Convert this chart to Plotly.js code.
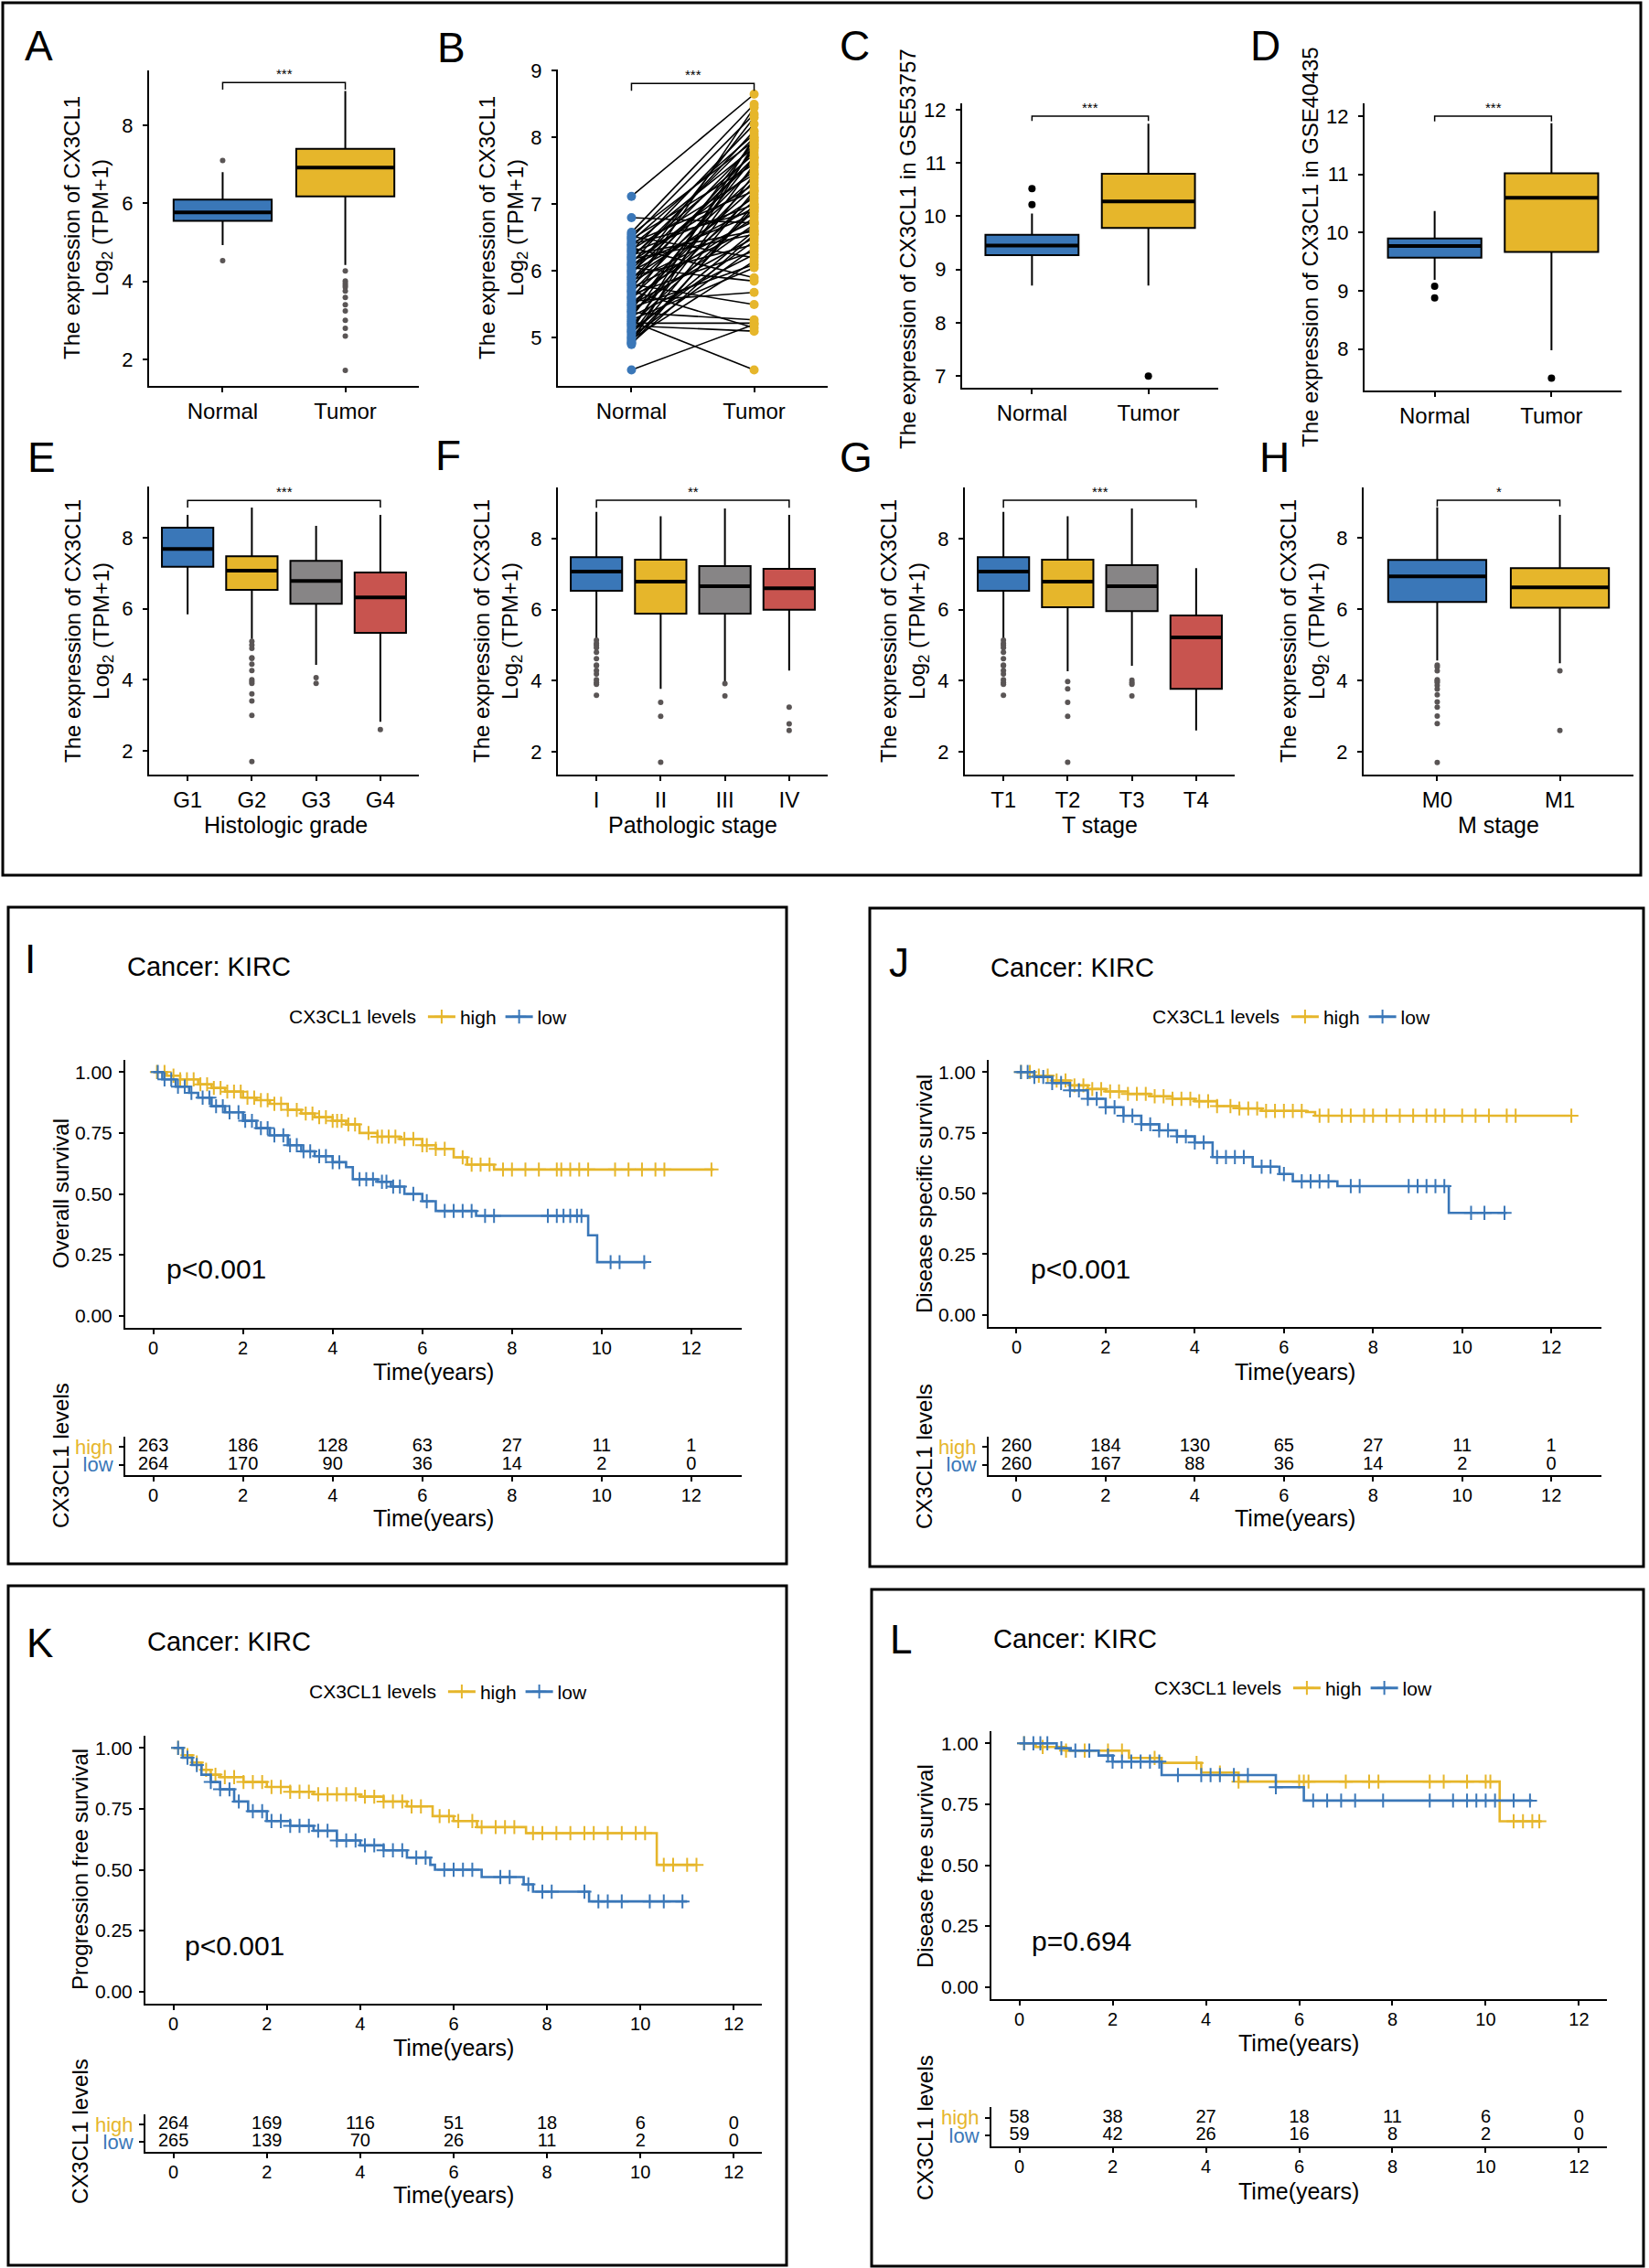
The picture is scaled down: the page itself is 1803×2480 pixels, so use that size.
<!DOCTYPE html>
<html><head><meta charset="utf-8">
<script src="https://cdn.plot.ly/plotly-3.0.1.min.js"></script>
<style>html,body{margin:0;padding:0;background:#fff}#chart{width:1803px;height:2480px}</style>
</head><body><div id="chart"></div>
<script>
const W=1803,H=2480;
const FONT='Arial, "Liberation Sans", sans-serif';
const BLUE='#3A77B8', YEL='#E6B62B', GRAY='#878586', RED='#C8544F';

// ================= DATA =================
// A: TCGA normal vs tumor
const A_groups=['Normal','Tumor'];
const A_q1=[5.55,6.18], A_med=[5.77,6.92], A_q3=[6.10,7.40], A_lo=[4.93,4.42], A_hi=[6.80,8.88];
const A_out=[[7.10,4.53],[4.27,4.01,3.95,3.90,3.85,3.75,3.59,3.40,3.24,3.00,2.80,2.60,1.72]];

// B: paired samples
const B_groups=['Normal','Tumor'];
const B_normal=[7.12,6.80,6.58,6.55,6.52,6.50,6.48,6.45,6.42,6.40,6.38,6.35,6.32,6.30,6.28,6.25,6.22,6.20,6.18,6.15,6.12,6.10,6.08,6.05,6.02,6.00,5.98,5.95,5.92,5.90,5.88,5.85,5.82,5.80,5.78,5.75,5.72,5.70,5.68,5.65,5.62,5.60,5.58,5.55,5.52,5.50,5.48,5.45,5.42,5.40,5.38,5.35,5.32,5.30,5.27,5.25,5.22,5.20,5.18,5.15,5.12,5.10,5.08,5.05,5.02,5.00,4.98,4.95,4.93,4.92,4.90,4.52];
const B_tumor=[8.65,6.72,8.50,7.95,6.20,8.35,7.60,8.05,7.20,6.90,7.85,5.90,7.45,8.20,7.00,6.60,7.75,8.00,6.55,7.30,8.10,6.85,7.50,5.85,7.90,6.95,7.65,8.30,6.40,7.10,7.70,6.75,7.80,5.50,7.40,6.65,8.45,5.15,7.55,6.30,7.25,6.80,7.95,5.68,7.05,6.50,7.35,6.10,7.70,6.70,5.27,7.15,6.25,7.85,6.05,4.52,5.22,6.90,5.10,7.60,6.45,8.00,6.60,7.45,6.35,7.20,6.15,6.95,7.90,6.55,7.00,5.20];

// C: GSE53757
const C_groups=['Normal','Tumor'];
const C_q1=[9.27,9.78], C_med=[9.45,10.28], C_q3=[9.65,10.80], C_lo=[8.70,8.70], C_hi=[10.05,11.74];
const C_out=[[10.22,10.52],[7.00]];

// D: GSE40435
const D_groups=['Normal','Tumor'];
const D_q1=[9.57,9.67], D_med=[9.77,10.60], D_q3=[9.90,11.02], D_lo=[9.19,7.98], D_hi=[10.37,11.88];
const D_out=[[9.08,8.88],[7.50]];

// E: Histologic grade
const E_groups=['G1','G2','G3','G4'];
const E_q1=[7.18,6.53,6.14,5.32], E_med=[7.68,7.07,6.78,6.32], E_q3=[8.28,7.48,7.35,7.02], E_lo=[5.84,5.15,4.42,2.82], E_hi=[8.64,8.85,8.33,8.64];
const E_out=[[],[5.08,4.98,4.88,4.62,4.60,4.44,4.26,4.00,3.95,3.90,3.60,3.40,3.00,1.70],[4.06,3.90],[2.60]];

// F: Pathologic stage
const F_groups=['I','II','III','IV'];
const F_q1=[6.53,5.89,5.89,6.00], F_med=[7.07,6.79,6.66,6.60], F_q3=[7.48,7.41,7.23,7.15], F_lo=[5.19,3.77,3.97,4.29], F_hi=[8.75,8.63,8.85,8.67];
const F_out=[[5.14,5.05,5.00,4.93,4.80,4.62,4.44,4.42,4.29,4.19,4.03,3.95,3.90,3.59],[3.39,3.00,1.71],[3.92,3.57],[3.26,2.79,2.60]];

// G: T stage
const G_groups=['T1','T2','T3','T4'];
const G_q1=[6.53,6.07,5.96,3.77], G_med=[7.07,6.79,6.66,5.22], G_q3=[7.48,7.41,7.25,5.84], G_lo=[5.19,4.27,4.42,2.60], G_hi=[8.75,8.63,8.85,7.17];
const G_out=[[5.14,5.05,5.00,4.93,4.80,4.62,4.44,4.42,4.29,4.19,4.03,3.95,3.90,3.59],[3.98,3.77,3.39,3.00,1.71],[4.02,3.95,3.90,3.57],[]];

// H: M stage
const H_groups=['M0','M1'];
const H_q1=[6.20,6.04], H_med=[6.92,6.61], H_q3=[7.38,7.15], H_lo=[4.56,4.48], H_hi=[8.85,8.64];
const H_out=[[4.43,4.38,4.27,4.02,3.98,3.94,3.86,3.76,3.60,3.40,3.25,3.00,2.79,1.70],[4.27,2.60]];

// significance brackets: [bar level, left tick end, right tick end], label
const SIG_A=[9.10,8.92,8.92,'***'], SIG_B=[8.81,8.70,8.70,'***'], SIG_C=[11.88,11.79,11.79,'***'], SIG_D=[12.00,11.91,11.91,'***'];
const SIG_E=[9.05,8.85,8.85,'***'], SIG_F=[9.08,8.87,8.87,'**'], SIG_G=[9.08,8.87,8.87,'***'], SIG_H=[9.05,8.88,8.88,'*'];

// KM curves (time in years, survival)
const I_high_t=[0,0.3,0.6,1.0,1.3,1.6,2.0,2.3,2.6,3.0,3.3,3.6,4.0,4.3,4.6,5.0,5.5,6.0,6.3,6.7,7.0,7.6,12.5];
const I_high_s=[1,0.985,0.97,0.95,0.935,0.92,0.895,0.885,0.87,0.845,0.83,0.815,0.80,0.785,0.75,0.735,0.725,0.70,0.685,0.65,0.62,0.60,0.60];
const I_low_t=[0,0.2,0.5,0.8,1.0,1.3,1.6,2.0,2.3,2.6,3.0,3.3,3.6,4.0,4.3,4.45,5.0,5.3,5.6,6.0,6.3,7.2,9.7,9.9,11.0];
const I_low_s=[1,0.97,0.94,0.915,0.895,0.86,0.835,0.80,0.77,0.74,0.70,0.675,0.655,0.63,0.61,0.56,0.55,0.53,0.50,0.47,0.43,0.41,0.33,0.22,0.22];
const I_high_c=[0.08,0.25,0.45,0.6,0.75,0.9,1.05,1.2,1.35,1.5,1.65,1.8,1.95,2.1,2.25,2.4,2.55,2.7,2.85,3.0,3.2,3.4,3.55,3.7,3.85,4.0,4.1,4.2,4.35,4.5,4.8,5.0,5.1,5.25,5.4,5.6,5.8,6.0,6.1,6.3,6.5,6.9,7.1,7.3,7.5,7.8,8.0,8.3,8.6,9.0,9.1,9.3,9.5,9.7,10.3,10.6,10.9,11.2,11.4,12.45];
const I_low_c=[0.1,0.25,0.4,0.55,0.7,0.85,1.1,1.25,1.4,1.55,1.7,1.9,2.05,2.2,2.4,2.55,2.7,2.9,3.05,3.2,3.35,3.5,3.7,3.85,4.0,4.15,4.6,4.75,4.9,5.1,5.2,5.35,5.5,5.8,6.1,6.5,6.7,6.9,7.1,7.4,7.6,8.8,9.0,9.15,9.3,9.45,9.55,10.2,10.4,10.95];

const J_high_t=[0,0.4,0.8,1.2,1.6,2.0,2.5,3.0,3.5,4.0,4.5,5.0,5.5,6.5,6.7,12.45];
const J_high_s=[1,0.985,0.965,0.945,0.93,0.92,0.91,0.90,0.89,0.88,0.86,0.85,0.84,0.835,0.82,0.82];
const J_low_t=[0,0.4,0.8,1.2,1.6,2.0,2.4,2.8,3.2,3.6,4.0,4.4,5.3,5.9,6.2,7.2,9.7,11.0];
const J_low_s=[1,0.98,0.955,0.925,0.89,0.855,0.82,0.785,0.76,0.735,0.71,0.65,0.61,0.58,0.55,0.53,0.42,0.42];
const J_high_c=[0.1,0.3,0.5,0.7,0.9,1.1,1.3,1.5,1.7,1.9,2.1,2.3,2.5,2.7,2.9,3.1,3.3,3.5,3.7,3.9,4.1,4.3,4.5,4.8,5.0,5.2,5.4,5.6,5.8,6.0,6.2,6.4,6.8,7.0,7.3,7.5,7.8,8.0,8.3,8.6,8.9,9.2,9.4,9.6,10.0,10.3,10.6,11.0,11.2,12.45];
const J_low_c=[0.1,0.25,0.4,0.6,0.8,1.0,1.2,1.4,1.6,1.8,2.0,2.2,2.4,2.6,2.8,3.0,3.2,3.4,3.6,3.8,4.0,4.2,4.5,4.7,4.9,5.1,5.5,5.7,6.0,6.4,6.6,6.8,7.0,7.5,7.7,8.8,9.0,9.2,9.4,9.6,10.2,10.5,10.95];

const K_high_t=[0,0.2,0.4,0.6,0.8,1.0,1.5,2.0,2.5,3.0,4.0,4.5,5.0,5.55,6.0,6.5,7.55,10.35,11.2];
const K_high_s=[1,0.97,0.94,0.91,0.89,0.88,0.86,0.84,0.82,0.81,0.80,0.78,0.76,0.72,0.70,0.675,0.65,0.52,0.52];
const K_low_t=[0,0.2,0.4,0.6,0.8,1.0,1.3,1.6,2.0,2.5,3.0,3.5,4.0,4.5,5.0,5.5,5.6,6.6,7.5,7.7,8.9,11.0];
const K_low_s=[1,0.96,0.93,0.89,0.86,0.83,0.78,0.74,0.70,0.68,0.66,0.62,0.60,0.58,0.55,0.52,0.50,0.47,0.44,0.41,0.37,0.37];
const K_high_c=[0.1,0.3,0.5,0.7,0.9,1.1,1.3,1.5,1.7,1.9,2.1,2.3,2.5,2.7,2.9,3.1,3.3,3.5,3.7,3.9,4.1,4.3,4.5,4.7,4.9,5.1,5.3,5.7,5.9,6.1,6.4,6.6,6.9,7.1,7.3,7.7,7.9,8.2,8.5,8.8,9.0,9.3,9.6,9.9,10.1,10.5,10.7,11.0,11.2];
const K_low_c=[0.1,0.3,0.5,0.8,1.0,1.2,1.4,1.7,1.9,2.1,2.3,2.5,2.7,2.9,3.1,3.3,3.5,3.7,3.9,4.1,4.3,4.5,4.7,4.9,5.2,5.4,5.8,6.0,6.2,6.4,7.0,7.2,7.6,7.9,8.1,8.8,9.1,9.3,9.6,10.2,10.5,10.9];

const L_high_t=[0,0.35,1.0,2.35,3.05,3.9,4.7,10.3,11.2];
const L_high_s=[1,0.985,0.97,0.94,0.92,0.88,0.843,0.68,0.68];
const L_low_t=[0,0.8,1.1,1.7,2.0,3.05,5.5,6.1,11.0];
const L_low_s=[1,0.98,0.97,0.95,0.925,0.87,0.82,0.765,0.765];
const L_high_c=[0.1,0.5,1.0,1.4,1.9,2.2,2.9,3.8,4.3,4.7,6.0,6.1,6.2,7.0,7.5,7.7,8.8,9.1,9.6,10.0,10.1,10.6,10.8,11.0,11.15];
const L_low_c=[0.1,0.3,0.45,0.6,0.9,1.2,1.5,1.9,2.0,2.2,2.4,2.6,2.8,3.0,3.4,3.9,4.1,4.3,4.6,4.9,5.5,6.3,6.6,6.9,7.2,7.8,8.8,9.3,9.6,9.8,10.0,10.2,10.6,10.95];

// risk tables
const RISK_TIMES=[0,2,4,6,8,10,12];
const I_risk_high=[263,186,128,63,27,11,1], I_risk_low=[264,170,90,36,14,2,0];
const J_risk_high=[260,184,130,65,27,11,1], J_risk_low=[260,167,88,36,14,2,0];
const K_risk_high=[264,169,116,51,18,6,0], K_risk_low=[265,139,70,26,11,2,0];
const L_risk_high=[58,38,27,18,11,6,0], L_risk_low=[59,42,26,16,8,2,0];

const KM_YLABELS={I:'Overall survival',J:'Disease specific survival',K:'Progression free survival',L:'Disease free survival'};
const KM_P={I:'p&lt;0.001',J:'p&lt;0.001',K:'p&lt;0.001',L:'p=0.694'};

// ================= GEOMETRY (pixels) =================
const GEOM={
 A:{x:[163,458],y:[77,422],yr:[1.32,9.41],dtick:2,label:[42,50],ytitle:[96,249]},
 B:{x:[610,905],y:[76,422],yr:[4.28,9.02],dtick:1,label:[494,52],ytitle:[550,249]},
 C:{x:[1052,1332],y:[113,424],yr:[6.78,12.12],dtick:1,label:[934,50],ytitle:[993,272]},
 D:{x:[1492,1773],y:[113,427],yr:[7.29,12.22],dtick:1,label:[1383,50],ytitle:[1432,270]},
 E:{x:[163,458],y:[532,847],yr:[1.33,9.44],dtick:2,label:[45,500],ytitle:[97,690],xtitle:[312,902]},
 F:{x:[610,905],y:[533,847],yr:[1.36,9.44],dtick:2,label:[490,498],ytitle:[544,690],xtitle:[757,902]},
 G:{x:[1055,1350],y:[533,847],yr:[1.36,9.44],dtick:2,label:[936,500],ytitle:[989,690],xtitle:[1202,902]},
 H:{x:[1491,1786],y:[533,847],yr:[1.36,9.41],dtick:2,label:[1393,500],ytitle:[1426,690],xtitle:[1638,902]}
};
const KGEOM={
 I:{box:[9,992,860,1710],px:[137,811],py:[1159,1452],ry:[1571,1613],xr:[-0.625,13.125],label:[33,1048],cancer:[137,1057],p:[180,1387],legend:[314,1112],ytitle:[66,1305],xtitle:[474,1500],rtitle:[66,1592],rxtitle:[474,1660]},
 J:{box:[951,993,1797,1713],px:[1081,1751],py:[1159,1451],ry:[1571,1613],xr:[-0.625,13.125],label:[983,1052],cancer:[1081,1058],p:[1125,1387],legend:[1258,1112],ytitle:[1010,1305],xtitle:[1416,1500],rtitle:[1010,1592],rxtitle:[1416,1660]},
 K:{box:[9,1734,860,2477],px:[159,833],py:[1898,2191],ry:[2312,2353],xr:[-0.6,12.6],label:[43,1796],cancer:[159,1795],p:[200,2127],legend:[336,1850],ytitle:[87,2044],xtitle:[496,2239],rtitle:[87,2331],rxtitle:[496,2400]},
 L:{box:[953,1738,1797,2478],px:[1084,1757],py:[1893,2186],ry:[2304,2347],xr:[-0.6,12.6],label:[985,1792],cancer:[1084,1792],p:[1126,2122],legend:[1260,1846],ytitle:[1011,2040],xtitle:[1420,2234],rtitle:[1011,2326],rxtitle:[1420,2396]}
};

// ================= BUILD =================
const dx=(a,b)=>[a/W,b/W];
const dy=(top,bot)=>[1-bot/H,1-top/H];
const layout={width:W,height:H,margin:{l:0,r:0,t:0,b:0},paper_bgcolor:'#fff',plot_bgcolor:'rgba(0,0,0,0)',
  hovermode:false,showlegend:true,font:{family:FONT,color:'#000'},annotations:[],shapes:[]};
const data=[];
function keys(i){return {xk:i===1?'xaxis':'xaxis'+i,yk:i===1?'yaxis':'yaxis'+i,xa:i===1?'x':'x'+i,ya:i===1?'y':'y'+i};}
function axisBase(extra){return Object.assign({showgrid:false,zeroline:false,showline:true,linecolor:'#000',linewidth:2,
  ticks:'outside',ticklen:5,tickwidth:2,tickcolor:'#000',fixedrange:true,tickfont:{family:FONT,size:22,color:'#000'}},extra);}
function ann(text,x,y,size,opt){layout.annotations.push(Object.assign({text:text,xref:'paper',yref:'paper',x:x/W,y:1-y/H,
  showarrow:false,xanchor:'center',yanchor:'middle',font:{family:FONT,size:size,color:'#000'}},opt||{}));}

function sigBracket(xa,ya,n,sig){
  data.push({type:'scatter',mode:'lines',xaxis:xa,yaxis:ya,x:[1,1,n,n],y:[sig[1],sig[0],sig[0],sig[2]],
    line:{color:'#000',width:1.5},showlegend:false,hoverinfo:'skip'});
  layout.annotations.push({text:sig[3],xref:xa,yref:ya,x:(1+n)/2,y:sig[0],yanchor:'bottom',xanchor:'center',showarrow:false,
    font:{family:FONT,size:15,color:'#000'},yshift:-1});
}

function boxPanel(i,key,groups,colors,q1,med,q3,lo,hi,out,sig,outColor,outSize,ytitleText,xtitleText){
  const g=GEOM[key],k=keys(i),n=groups.length;
  layout[k.xk]=axisBase({domain:dx(g.x[0],g.x[1]),anchor:k.ya,range:[0.4,n+0.6],tickvals:groups.map((_,j)=>j+1),ticktext:groups,
    tickfont:{family:FONT,size:24,color:'#000'},ticklabelstandoff:0});
  layout[k.yk]=axisBase({domain:dy(g.y[0],g.y[1]),anchor:k.xa,range:g.yr,dtick:g.dtick,tick0:0,ticklabelstandoff:6});
  groups.forEach((gr,j)=>{
    const pos=j+1;
    data.push({type:'box',orientation:'v',xaxis:k.xa,yaxis:k.ya,x:[pos],q1:[q1[j]],median:[med[j]],q3:[q3[j]],
      lowerfence:[lo[j]],upperfence:[hi[j]],width:0.8,fillcolor:colors[j],line:{color:'#000',width:2},whiskerwidth:0,
      boxpoints:false,showlegend:false,hoverinfo:'skip'});
    data.push({type:'scatter',mode:'lines',xaxis:k.xa,yaxis:k.ya,x:[pos-0.4,pos+0.4],y:[med[j],med[j]],
      line:{color:'#000',width:4},showlegend:false,hoverinfo:'skip'});
    if(out[j].length) data.push({type:'scatter',mode:'markers',xaxis:k.xa,yaxis:k.ya,x:out[j].map(()=>pos),y:out[j],
      marker:{color:outColor,size:outSize},showlegend:false,hoverinfo:'skip'});
  });
  sigBracket(k.xa,k.ya,n,sig);
  ann(key,g.label[0],g.label[1],46);
  ann(ytitleText,g.ytitle[0],g.ytitle[1],24,{textangle:-90});
  if(xtitleText) ann(xtitleText,g.xtitle[0],g.xtitle[1],25);
}

const TPM='The expression of CX3CL1<br>Log<sub>2</sub> (TPM+1)';
const DOTG='#5a5555';
boxPanel(1,'A',A_groups,[BLUE,YEL],A_q1,A_med,A_q3,A_lo,A_hi,A_out,SIG_A,DOTG,6,TPM);
// B paired
(function(){
  const g=GEOM.B,k=keys(2);
  layout[k.xk]=axisBase({domain:dx(g.x[0],g.x[1]),anchor:k.ya,range:[0.4,2.6],tickvals:[1,2],ticktext:B_groups,
    tickfont:{family:FONT,size:24,color:'#000'},ticklabelstandoff:0});
  layout[k.yk]=axisBase({domain:dy(g.y[0],g.y[1]),anchor:k.xa,range:g.yr,dtick:1,tick0:0,ticklabelstandoff:6});
  const lx=[],ly=[];
  B_normal.forEach((v,j)=>{lx.push(1,2,null);ly.push(v,B_tumor[j],null);});
  data.push({type:'scatter',mode:'lines',xaxis:k.xa,yaxis:k.ya,x:lx,y:ly,line:{color:'#000',width:1.6},showlegend:false,hoverinfo:'skip'});
  data.push({type:'scatter',mode:'markers',xaxis:k.xa,yaxis:k.ya,x:B_normal.map(()=>1),y:B_normal,marker:{color:BLUE,size:10},showlegend:false,hoverinfo:'skip'});
  data.push({type:'scatter',mode:'markers',xaxis:k.xa,yaxis:k.ya,x:B_tumor.map(()=>2),y:B_tumor,marker:{color:YEL,size:10},showlegend:false,hoverinfo:'skip'});
  sigBracket(k.xa,k.ya,2,SIG_B);
  ann('B',g.label[0],g.label[1],46);
  ann(TPM,g.ytitle[0],g.ytitle[1],24,{textangle:-90});
})();
boxPanel(3,'C',C_groups,[BLUE,YEL],C_q1,C_med,C_q3,C_lo,C_hi,C_out,SIG_C,'#000',8,'The expression of CX3CL1 in GSE53757');
boxPanel(4,'D',D_groups,[BLUE,YEL],D_q1,D_med,D_q3,D_lo,D_hi,D_out,SIG_D,'#000',8,'The expression of CX3CL1 in GSE40435');
const C4=[BLUE,YEL,GRAY,RED];
boxPanel(5,'E',E_groups,C4,E_q1,E_med,E_q3,E_lo,E_hi,E_out,SIG_E,DOTG,6,TPM,'Histologic grade');
boxPanel(6,'F',F_groups,C4,F_q1,F_med,F_q3,F_lo,F_hi,F_out,SIG_F,DOTG,6,TPM,'Pathologic stage');
boxPanel(7,'G',G_groups,C4,G_q1,G_med,G_q3,G_lo,G_hi,G_out,SIG_G,DOTG,6,TPM,'T stage');
boxPanel(8,'H',H_groups,[BLUE,YEL],H_q1,H_med,H_q3,H_lo,H_hi,H_out,SIG_H,DOTG,6,TPM,'M stage');

// frame around A-H
layout.shapes.push({type:'rect',xref:'paper',yref:'paper',x0:3/W,x1:1794/W,y0:1-3/H,y1:1-957/H,line:{color:'#000',width:3}});

function survAt(t,s,c){let v=s[0];for(let i=0;i<t.length;i++){if(t[i]<=c)v=s[i];else break;}return v;}

function kmPanel(iKM,iRisk,key,legName,hT,hS,lT,lS,hC,lC,rH,rL){
  const g=KGEOM[key],k=keys(iKM),r=keys(iRisk);
  layout[k.xk]=axisBase({domain:dx(g.px[0],g.px[1]),anchor:k.ya,range:g.xr,tickvals:RISK_TIMES,tickfont:{family:FONT,size:20,color:'#000'},ticklabelstandoff:-2});
  layout[k.yk]=axisBase({domain:dy(g.py[0],g.py[1]),anchor:k.xa,range:[-0.05,1.05],tickvals:[0,0.25,0.5,0.75,1],tickformat:'.2f',tickfont:{family:FONT,size:21,color:'#000'},ticklabelstandoff:3});
  layout[r.xk]=axisBase({domain:dx(g.px[0],g.px[1]),anchor:r.ya,range:g.xr,tickvals:RISK_TIMES,tickfont:{family:FONT,size:20,color:'#000'},ticklabelstandoff:-2});
  layout[r.yk]=axisBase({domain:dy(g.ry[0],g.ry[1]),anchor:r.xa,range:[0.4,2.6],tickvals:[2,1],
    ticktext:['<span style="color:'+YEL+'">high</span>','<span style="color:'+BLUE+'">low</span>'],tickfont:{family:FONT,size:22,color:'#000'},ticklabelstandoff:2});
  const curves=[[hT,hS,hC,YEL,'high'],[lT,lS,lC,BLUE,'low']];
  curves.forEach(cv=>{
    data.push({type:'scatter',mode:'lines',xaxis:k.xa,yaxis:k.ya,x:cv[0],y:cv[1],line:{shape:'hv',color:cv[3],width:2.6},showlegend:false,hoverinfo:'skip'});
    data.push({type:'scatter',mode:'markers',xaxis:k.xa,yaxis:k.ya,x:cv[2],y:cv[2].map(c=>survAt(cv[0],cv[1],c)),
      marker:{symbol:'cross-thin',size:11,color:cv[3],line:{color:cv[3],width:2}},showlegend:false,hoverinfo:'skip'});
  });
  curves.forEach(cv=>{
    data.push({type:'scatter',mode:'lines+markers',xaxis:k.xa,yaxis:k.ya,x:[null],y:[null],name:cv[4],legend:legName,
      line:{color:cv[3],width:3},marker:{symbol:'cross-thin',size:11,color:cv[3],line:{color:cv[3],width:2}},hoverinfo:'skip'});
  });
  layout[legName]={orientation:'h',x:g.legend[0]/W,y:1-g.legend[1]/H,xanchor:'left',yanchor:'middle',
    font:{family:FONT,size:21,color:'#000'},title:{text:'CX3CL1 levels',side:'left',font:{family:FONT,size:21,color:'#000'}},
    bgcolor:'rgba(0,0,0,0)',borderwidth:0,itemwidth:30,traceorder:'normal',itemclick:false,itemdoubleclick:false};
  // risk numbers
  data.push({type:'scatter',mode:'text',xaxis:r.xa,yaxis:r.ya,x:RISK_TIMES.concat(RISK_TIMES),
    y:RISK_TIMES.map(()=>2).concat(RISK_TIMES.map(()=>1)),text:rH.concat(rL).map(String),
    textfont:{family:FONT,size:20,color:'#000'},textposition:'middle center',showlegend:false,hoverinfo:'skip'});
  // frame & texts
  layout.shapes.push({type:'rect',xref:'paper',yref:'paper',x0:g.box[0]/W,x1:g.box[2]/W,y0:1-g.box[1]/H,y1:1-g.box[3]/H,line:{color:'#000',width:3}});
  ann(key,g.label[0],g.label[1],44);
  ann('Cancer: KIRC',g.cancer[0],g.cancer[1],29,{xanchor:'left'});
  ann(KM_P[key],g.p[0],g.p[1],30,{xanchor:'left'});
  ann(KM_YLABELS[key],g.ytitle[0],g.ytitle[1],24,{textangle:-90});
  ann('Time(years)',g.xtitle[0],g.xtitle[1],25);
  ann('CX3CL1 levels',g.rtitle[0],g.rtitle[1],24,{textangle:-90});
  ann('Time(years)',g.rxtitle[0],g.rxtitle[1],25);
}
kmPanel(9,10,'I','legend',I_high_t,I_high_s,I_low_t,I_low_s,I_high_c,I_low_c,I_risk_high,I_risk_low);
kmPanel(11,12,'J','legend2',J_high_t,J_high_s,J_low_t,J_low_s,J_high_c,J_low_c,J_risk_high,J_risk_low);
kmPanel(13,14,'K','legend3',K_high_t,K_high_s,K_low_t,K_low_s,K_high_c,K_low_c,K_risk_high,K_risk_low);
kmPanel(15,16,'L','legend4',L_high_t,L_high_s,L_low_t,L_low_s,L_high_c,L_low_c,L_risk_high,L_risk_low);

Plotly.newPlot('chart',data,layout,{staticPlot:true,displayModeBar:false});
</script>
</body></html>
